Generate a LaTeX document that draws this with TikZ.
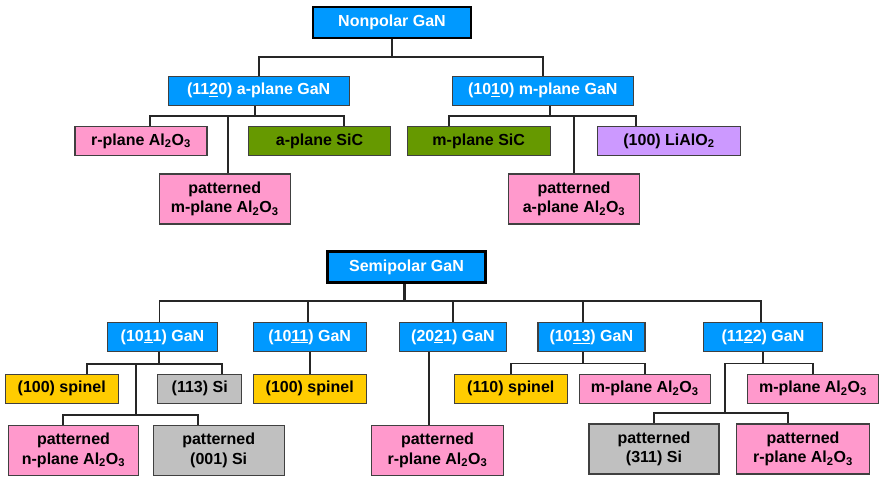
\documentclass[tikz,border=0pt]{standalone}
\usepackage{fontspec}
\setmainfont{Liberation Sans}
\usetikzlibrary{positioning}

\definecolor{ganblue}{RGB}{0,153,255}
\definecolor{sappink}{RGB}{255,153,204}
\definecolor{sicgreen}{RGB}{102,153,0}
\definecolor{spinyellow}{RGB}{255,204,0}
\definecolor{sigray}{RGB}{192,192,192}
\definecolor{lipurple}{RGB}{204,153,255}
\definecolor{edge}{RGB}{64,64,64}

\newcommand{\alo}{Al\textsubscript{2}O\textsubscript{3}}

\begin{document}
\begin{tikzpicture}[x=1pt,y=-1pt,
    box/.style={draw=edge,line width=1.4pt,inner sep=0pt,minimum height=29pt,
                align=center,font=\fontsize{16}{19.5}\selectfont\bfseries},
    head/.style={box,draw=black,line width=2.4pt,fill=ganblue,text=white,minimum height=31pt,minimum width=158pt},
    gan/.style={box,fill=ganblue,text=white},
    sapph/.style={box,fill=sappink},
    sic/.style={box,fill=sicgreen},
    spin/.style={box,fill=spinyellow},
    si/.style={box,fill=sigray},
    lial/.style={box,fill=lipurple},
    tall/.style={minimum height=50pt},
    link/.style={draw=black!85,line width=1.8pt}]
\useasboundingbox (0,0) rectangle (880,480);

% nonpolar tree
\node[head] (np) at (392,22.5) {Nonpolar GaN};
\node[gan,minimum width=181pt] (ga) at (258.7,90.7) {(11\underline{2}0) a-plane GaN};
\node[gan,minimum width=181pt] (gm) at (542.8,90.7) {(10\underline{1}0) m-plane GaN};

\node[sapph,minimum width=132pt] (rAl) at (141,141) {r-plane \alo};
\node[sic,minimum width=142pt] (aSiC) at (319.5,141) {a-plane SiC};
\node[sapph,tall,minimum width=131pt] (pmAl) at (224.7,199) {patterned\\m-plane \alo};
\node[sic,minimum width=143pt] (mSiC) at (478.7,141) {m-plane SiC};
\node[lial,minimum width=143pt] (li) at (669,141) {(100) LiAlO\textsubscript{2}};
\node[sapph,tall,minimum width=131pt] (paAl) at (574,199) {patterned\\a-plane \alo};

\coordinate (jn) at (392,57);
\coordinate (ja) at (255,116);
\coordinate (jm) at (550,116);

\draw[link] (np) -- (jn);
\draw[link] (ga) |- (jn) -| (gm);
\draw[link] (ga.south -| ja) -- (ja);
\draw[link] ([xshift=9pt]rAl.north) |- (ja) -| ([xshift=24.5pt]aSiC.north);
\draw[link] ([xshift=3pt]pmAl.north) |- (ja);
\draw[link] (gm.south -| jm) -- (jm);
\draw[link] ([xshift=-29.7pt]mSiC.north) |- (jm) -| ([xshift=-33pt]li.north);
\draw[link] (paAl) |- (jm);

% semipolar tree
\node[head] (sp) at (406.5,267) {Semipolar GaN};
\node[gan,minimum width=110pt] (b1) at (162.5,337) {(10\underline{1}1) GaN};
\node[gan,minimum width=113pt] (b2) at (309.7,337) {(10\underline{11}) GaN};
\node[gan,minimum width=107pt] (b3) at (453,337) {(20\underline{2}1) GaN};
\node[gan,minimum width=107pt] (b4) at (591.3,337) {(10\underline{13}) GaN};
\node[gan,minimum width=119pt] (b5) at (763,337) {(11\underline{2}2) GaN};

\node[spin,minimum width=113pt] (sp1) at (61.7,388.7) {(100) spinel};
\node[si,minimum width=84pt] (si113) at (199.7,388.7) {(113) Si};
\node[spin,minimum width=113pt] (sp2) at (309.7,388.7) {(100) spinel};
\node[spin,minimum width=113pt] (sp3) at (510.8,388.7) {(110) spinel};
\node[sapph,minimum width=131pt] (mAl1) at (644.7,388.7) {m-plane \alo};
\node[sapph,minimum width=131pt] (mAl2) at (813,388.7) {m-plane \alo};

\node[sapph,tall,minimum width=130pt] (pnAl) at (73.5,450.3) {patterned\\n-plane \alo};
\node[si,tall,minimum width=131pt] (p001) at (218.7,450.3) {patterned\\(001) Si};
\node[sapph,tall,minimum width=132pt] (prAl1) at (437.5,450.3) {patterned\\r-plane \alo};
\node[si,tall,minimum width=130pt] (p311) at (654,449) {patterned\\(311) Si};
\node[sapph,tall,minimum width=133pt] (prAl2) at (803,449) {patterned\\r-plane \alo};

\coordinate (js) at (404.5,301);
\coordinate (j1) at (159.3,364);
\coordinate (j1b) at (136,415);
\coordinate (j4) at (583.3,363.5);
\coordinate (j5) at (762.7,363.5);
\coordinate (j5b) at (725,412.7);

\draw[link,line width=3pt] (sp.south -| js) -- (js);
\draw[link] ([xshift=-3pt]b1.north) |- (js) -| ([xshift=-2pt]b5.north);
\draw[link] ([xshift=-1.7pt]b2.north) |- (js);
\draw[link] (b3) |- (js);
\draw[link] ([xshift=-8.6pt]b4.north) |- (js);

\draw[link] (b1.south -| j1) -- (j1);
\draw[link] ([xshift=25.6pt]sp1.north) |- (j1) -| ([xshift=22pt]si113.north);
\draw[link] (j1b) -- (j1b |- j1);
\draw[link] ([xshift=-10.2pt]pnAl.north) |- (j1b) -| ([xshift=-20.4pt]p001.north);

\draw[link] (b2) -- (sp2);
\draw[link] ([xshift=-23.7pt]b3.south) coordinate (d3) -- (d3 |- prAl1.north);

\draw[link] (b4.south -| j4) -- (j4);
\draw[link] (sp3) |- (j4) -| (mAl1);

\draw[link] (b5.south -| j5) -- (j5);
\draw[link] (j5b) |- (j5) -| (mAl2);
\draw[link] (p311) |- (j5b) -| ([xshift=-15.3pt]prAl2.north);
\end{tikzpicture}
\end{document}
